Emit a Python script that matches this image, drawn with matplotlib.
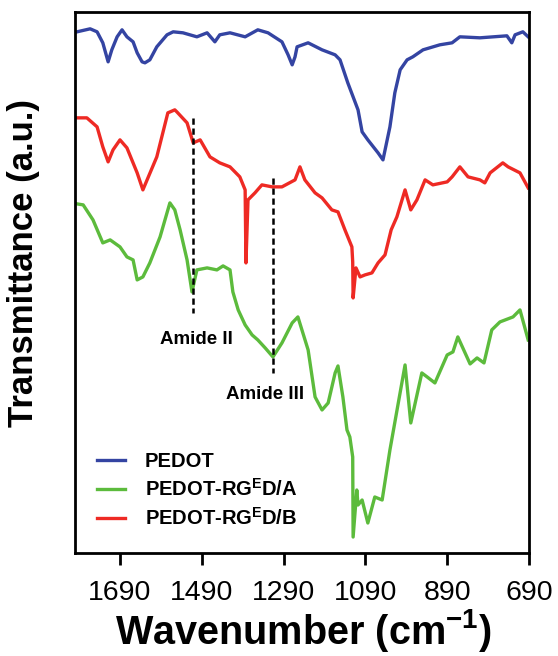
import matplotlib.pyplot as plt

plt.rcParams['font.family'] = ['Liberation Sans', 'DejaVu Sans']
plt.rcParams['mathtext.fontset'] = 'custom'
plt.rcParams['mathtext.rm'] = 'Liberation Sans'
plt.rcParams['mathtext.bf'] = 'Liberation Sans:bold'

# PEDOT (blue)
wn_pedot = [1795, 1763, 1746, 1732, 1719, 1710, 1697, 1685, 1673, 1658, 1648, 1636,
            1629, 1617, 1600, 1575, 1560, 1536, 1502, 1477, 1458, 1446, 1421, 1384,
            1353, 1328, 1294, 1279, 1269, 1262, 1257, 1230, 1196, 1164, 1152, 1133,
            1108, 1098, 1084, 1059, 1047, 1030, 1018, 1005, 988, 974, 949, 908, 878,
            859, 810, 744, 732, 724, 705, 692]
t_pedot = [521, 524, 521, 510, 491, 503, 516, 523, 516, 511, 500, 491,
           490, 493, 506, 518, 521, 520, 516, 520, 511, 518, 520, 516,
           523, 520, 511, 498, 488, 496, 506, 510, 503, 498, 493, 470,
           443, 421, 413, 400, 393, 426, 460, 483, 493, 496, 503, 508, 510,
           516, 515, 517, 510, 518, 521, 516]

# PEDOT-RGED/B (red)
wn_b = [1795, 1771, 1746, 1732, 1719, 1707, 1690, 1673, 1648, 1634, 1600, 1573,
        1556, 1551, 1526, 1511, 1494, 1470, 1446, 1421, 1397, 1384, 1382, 1377,
        1360, 1343, 1318, 1294, 1262, 1250, 1238, 1213, 1196, 1172, 1157, 1140,
        1123, 1121, 1120, 1113, 1103, 1091, 1074, 1059, 1042, 1027, 1013, 993,
        979, 964, 944, 925, 890, 878, 859, 839, 810, 798, 785, 754, 741, 712, 692]
t_b = [435, 435, 426, 406, 391, 403, 413, 405, 380, 363, 396, 440,
       443, 441, 430, 410, 413, 396, 390, 386, 376, 363, 290, 353,
       360, 368, 366, 366, 373, 386, 373, 360, 355, 343, 341, 323,
       306, 291, 255, 285, 276, 278, 280, 290, 298, 323, 336, 363,
       343, 353, 373, 368, 371, 376, 386, 376, 373, 370, 380, 390, 386, 380, 365]

# PEDOT-RGED/A (green)
wn_a = [1795, 1780, 1756, 1732, 1714, 1690, 1673, 1658, 1648, 1634, 1617, 1592,
        1568, 1556, 1543, 1526, 1514, 1502, 1477, 1453, 1438, 1421, 1414, 1401,
        1384, 1367, 1353, 1335, 1316, 1294, 1269, 1255, 1230, 1213, 1196, 1181,
        1164, 1157, 1145, 1135, 1128, 1121, 1120, 1111, 1108, 1098, 1084, 1067,
        1049, 1030, 993, 979, 952, 939, 920, 890, 876, 864, 834, 817, 800, 781,
        761, 729, 712, 692]
t_a = [349, 348, 333, 310, 313, 306, 296, 293, 273, 276, 290, 316,
       350, 343, 323, 293, 261, 283, 285, 283, 287, 283, 261, 243,
       228, 218, 213, 205, 196, 210, 230, 236, 203, 156, 143, 150,
       180, 187, 156, 123, 116, 96, 16, 63, 48, 53, 30, 56,
       53, 103, 188, 130, 180, 176, 170, 198, 201, 216, 189, 195, 190, 223,
       231, 236, 243, 213]

# amide markers: wavenumber, line top, line bottom
amide_wn = [1512, 1316]
amide_top = [435, 375]
amide_bot = [240, 180]
amide_text = ['Amide II', 'Amide III']
amide_text_xy = [(1502, 213), (1335, 158)]

ticks = [1690, 1490, 1290, 1090, 890, 690]

fig = plt.figure(figsize=(5.58, 6.56), dpi=100)
ax = fig.add_axes([0.1344, 0.157, 0.8136, 0.825])

ax.plot(wn_pedot, t_pedot, color='#3444a2', lw=2.4, label='PEDOT')
ax.plot(wn_a, t_a, color='#5cbb3c', lw=2.4, label=r'PEDOT-RG$^{\mathbf{E}}$D/A')
ax.plot(wn_b, t_b, color='#ee2a24', lw=2.4, label=r'PEDOT-RG$^{\mathbf{E}}$D/B')

for w, t0, t1 in zip(amide_wn, amide_top, amide_bot):
    ax.plot([w, w], [t0, t1], color='black', lw=1.8, ls=(0, (2.5, 1.5)))
for s, (x, y) in zip(amide_text, amide_text_xy):
    ax.text(x, y, s, ha='center', va='center', fontsize=13.5, fontweight='bold')

ax.set_xlim(1800, 690)
ax.set_ylim(0, 541)
ax.set_xticks(ticks)
ax.set_xticklabels([str(t) for t in ticks])
ax.set_yticks([])
ax.tick_params(axis='x', direction='out', length=8.5, width=2, labelsize=20.5, pad=11)
for sp in ax.spines.values():
    sp.set_linewidth(2)

ax.set_xlabel(r'Wavenumber (cm$^{\mathbf{-1}}$)', fontsize=28.5, fontweight='bold')
ax.xaxis.set_label_coords(0.502, -0.1)
ax.set_ylabel('Transmittance (a.u.)', fontsize=25, fontweight='bold')
ax.yaxis.set_label_coords(-0.078, 0.536)

leg = ax.legend(loc='lower left', bbox_to_anchor=(0.03, 0.03), frameon=False,
                prop={'weight': 'bold', 'size': 14.5}, handlelength=1.4,
                handletextpad=1.0, labelspacing=0.35, borderaxespad=0)

fig.savefig('out.png', dpi=100)
